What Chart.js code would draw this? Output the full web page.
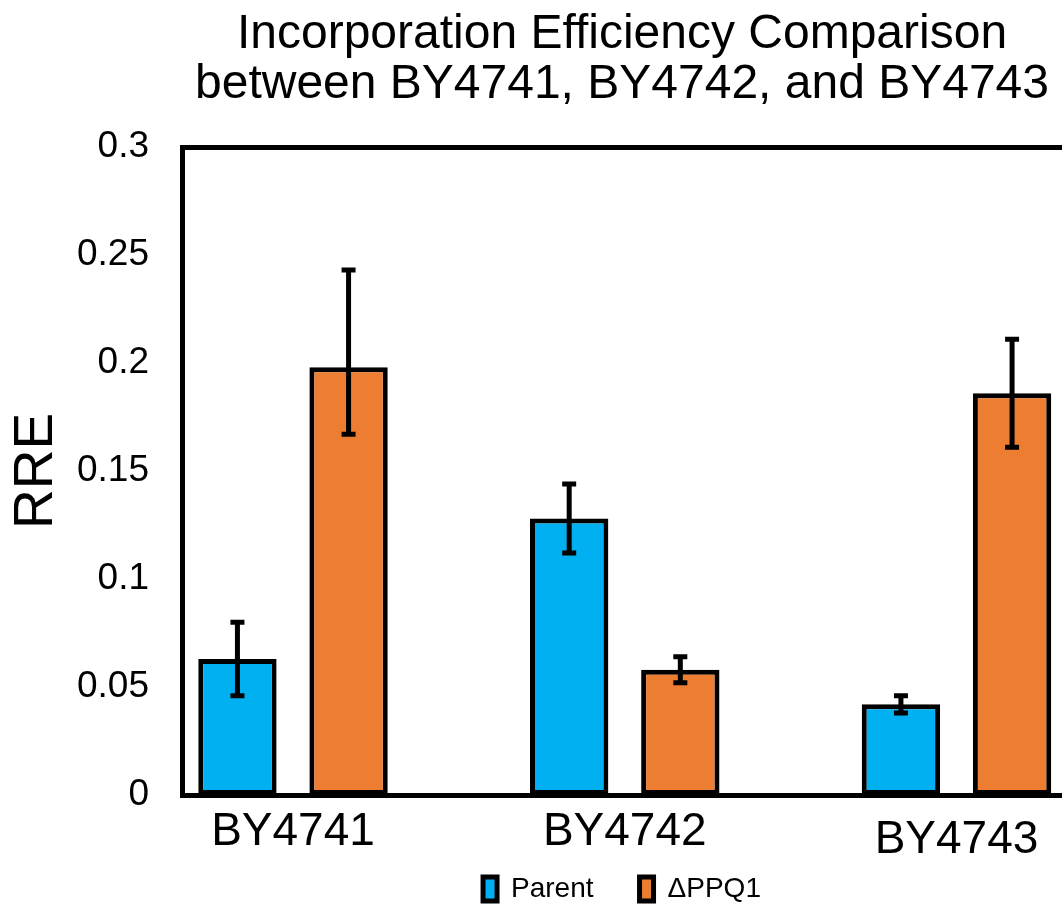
<!DOCTYPE html>
<html><head><meta charset="utf-8">
<script src="https://cdn.jsdelivr.net/npm/chart.js@4.4.1/dist/chart.umd.min.js"></script>
<style>
html,body{margin:0;padding:0;background:#fff;overflow:hidden;}
#wrap{width:1062px;height:905px;overflow:hidden;position:relative;background:#fff;}
canvas{display:block;}
</style></head><body>
<div id="wrap"><canvas id="c" width="1244" height="905"></canvas></div>
<script>
// ---- data ----
const categories = ['BY4741', 'BY4742', 'BY4743'];
const seriesNames = ['Parent', '\u0394PPQ1'];
const parentValues = [0.063, 0.128, 0.042];
const ppq1Values = [0.198, 0.058, 0.186];
const parentErrPlus = [0.017, 0.016, 0.004];
const parentErrMinus = [0.017, 0.016, 0.004];
const ppq1ErrPlus = [0.045, 0.006, 0.025];
const ppq1ErrMinus = [0.031, 0.006, 0.025];
const yTickLabels = ['0', '0.05', '0.1', '0.15', '0.2', '0.25', '0.3'];
const titleLines = ['Incorporation Efficiency Comparison', 'between BY4741, BY4742, and BY4743'];
const yAxisTitle = 'RRE';

const FONT = "'Liberation Sans', Arial, sans-serif";
Chart.defaults.font.family = FONT;
Chart.defaults.color = '#000';

const CANVAS_W = 1244;
const PLOT_LEFT = 182;
const CAT_PX = 331.75;
const xMin = -0.3346;
const xMax = xMin + (CANVAS_W - PLOT_LEFT) / CAT_PX;

const errorBarPlugin = {
  id: 'errbars',
  afterDatasetsDraw(chart) {
    const ctx = chart.ctx;
    const y = chart.scales.y;
    const sets = [[parentValues, parentErrPlus, parentErrMinus], [ppq1Values, ppq1ErrPlus, ppq1ErrMinus]];
    ctx.save();
    ctx.strokeStyle = '#000';
    ctx.lineWidth = 5;
    ctx.lineCap = 'butt';
    sets.forEach(([vals, plus, minus], d) => {
      chart.getDatasetMeta(d).data.forEach((bar, i) => {
        const x = bar.x;
        const yt = y.getPixelForValue(vals[i] + plus[i]);
        const yb = y.getPixelForValue(vals[i] - minus[i]);
        ctx.beginPath();
        ctx.moveTo(x, yt); ctx.lineTo(x, yb);
        ctx.moveTo(x - 7, yt); ctx.lineTo(x + 7, yt);
        ctx.moveTo(x - 7, yb); ctx.lineTo(x + 7, yb);
        ctx.stroke();
      });
    });
    ctx.restore();
  }
};

const barCommon = {
  borderColor: '#000', borderWidth: 5, borderSkipped: false,
  barPercentage: 0.705, categoryPercentage: 0.67
};

new Chart(document.getElementById('c'), {
  type: 'bar',
  data: {
    datasets: [
      Object.assign({ label: seriesNames[0], backgroundColor: '#00B0F0',
        data: categories.map((c, i) => ({ x: i, y: parentValues[i] })) }, barCommon),
      Object.assign({ label: seriesNames[1], backgroundColor: '#ED7D31',
        data: categories.map((c, i) => ({ x: i, y: ppq1Values[i] })) }, barCommon)
    ]
  },
  options: {
    responsive: false,
    animation: false,
    devicePixelRatio: 1,
    layout: { padding: 0 },
    plugins: {
      title: {
        display: true, text: titleLines, color: '#000',
        font: { family: FONT, size: 48, weight: 'normal', lineHeight: '50px' },
        padding: { top: 9.5, bottom: 37.5 }
      },
      legend: {
        position: 'bottom', maxHeight: 48,
        labels: {
          color: '#000', font: { family: FONT, size: 28 }, boxWidth: 14, boxHeight: 24, padding: 18,
          generateLabels: chart => Chart.defaults.plugins.legend.labels.generateLabels(chart)
            .map((it, i) => Object.assign(it, { text: i === 0 ? it.text + '\u2002\u2002' : it.text }))
        }
      },
      tooltip: { enabled: false }
    },
    scales: {
      x: {
        type: 'linear', min: xMin, max: xMax, offset: false,
        afterBuildTicks: s => { s.ticks = categories.map((c, i) => ({ value: i })); },
        afterFit: s => { s.height = 62; },
        grid: { display: false, drawTicks: false, offset: false },
        border: { display: true, color: '#000', width: 5 },
        ticks: {
          padding: 10, color: '#000', maxRotation: 0, autoSkip: false,
          callback: v => categories[v],
          font: c => ({ family: FONT, size: 46, lineHeight: c.index === 2 ? 1.55 : 1.2 })
        }
      },
      x2: {
        type: 'linear', position: 'top', min: xMin, max: xMax, offset: false,
        grid: { display: false, drawTicks: false },
        border: { display: true, color: '#000', width: 5 },
        ticks: { display: false }
      },
      y: {
        min: 0, max: 0.3,
        afterFit: s => { s.width = PLOT_LEFT; },
        grid: { display: false, drawTicks: false },
        border: { display: true, color: '#000', width: 5 },
        ticks: { stepSize: 0.05, padding: 33, color: '#000', font: { family: FONT, size: 37 },
          callback: (v, i) => yTickLabels[i] },
        title: { display: true, text: yAxisTitle, color: '#000', font: { family: FONT, size: 55 }, padding: { top: 4, bottom: 0 } }
      }
    }
  },
  plugins: [errorBarPlugin]
});
</script>
</body></html>
